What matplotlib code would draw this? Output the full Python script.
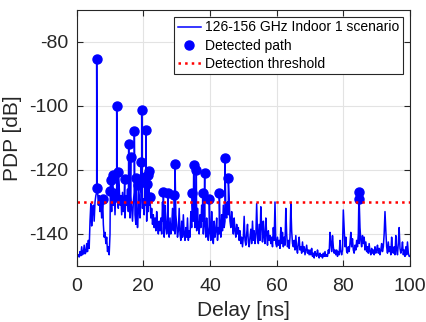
import numpy as np
import matplotlib
matplotlib.use('Agg')
import matplotlib.pyplot as plt

plt.rcParams['font.family'] = ['Liberation Sans', 'DejaVu Sans']
plt.rcParams['axes.unicode_minus'] = False

trace_step = 0.25
trace_pdp = [
    -147.5, -147, -146.5, -147.2, -145.5, -146.8, -144, -146.5, -146, -143.5,
    -146.2, -145.8, -143, -145.5, -142, -144.5, -136, -130.5, -137.5, -133,
    -131, -136, -130, -128, -127, -126, -131, -128, -133, -130,
    -135, -131, -137, -141, -139.5, -143, -141, -145.5, -144, -146.5,
    -140, -128, -133, -124, -131, -127, -134, -126, -130, -128,
    -132, -125, -131, -128, -134, -127, -133, -129, -135, -128,
    -131, -126, -133, -129, -135, -128, -132, -136, -130, -127,
    -134, -137, -131, -138, -133, -128, -135, -130, -127, -132,
    -129, -134, -127, -131, -136, -129, -133, -127, -131, -135,
    -132, -137, -134, -138, -135, -139, -133, -137, -140, -136,
    -139, -135, -140, -130, -136, -141, -131, -138, -140, -133,
    -139, -141, -135, -140, -138, -132, -139, -136, -140, -134,
    -137, -141, -139, -132, -140, -142, -136, -141, -134, -140,
    -142, -138, -141, -135, -142, -139, -141, -133, -138, -131,
    -136, -130, -138, -133, -139, -132, -137, -140, -134, -138,
    -131, -136, -140, -133, -137, -141, -135, -139, -142, -137,
    -139, -142, -133, -140, -143, -136, -141, -139, -135, -142,
    -138, -140, -137, -141, -134, -139, -131, -138, -136, -133,
    -135, -130, -134, -129, -136, -138, -133, -137, -140, -135,
    -139, -141, -137, -140, -138, -142, -139, -143, -141, -144,
    -141, -134.5, -142, -143.5, -140, -137, -142.5, -144, -141, -138.5,
    -143, -136, -142, -139, -143, -141, -130.5, -140, -143, -137,
    -142, -131.5, -138, -142.5, -136, -141, -143, -135, -140, -143.5,
    -139, -142, -140.5, -143, -141, -144, -138, -142, -130, -143,
    -144, -141, -143.5, -142, -144.5, -138, -143, -139.5, -144, -141,
    -143.5, -132, -140, -144, -142, -144.5, -141, -130.5, -139, -143,
    -144, -142, -145, -140.5, -144.5, -146, -143, -141, -145, -144,
    -146, -142.5, -145.5, -144, -146.5, -145, -143.5, -146, -145, -146.5,
    -145, -146.5, -144.5, -147, -146, -147.5, -145.5, -146.5, -147, -145,
    -146.5, -147.5, -146, -147, -146.5, -147.5, -146, -147, -145.5, -147,
    -146.5, -147, -145, -146, -139.5, -143, -145.5, -140.5, -144, -146,
    -145, -146.5, -145, -147, -145.5, -146.5, -142, -145.5, -146.5, -145,
    -132.5, -138, -144, -141, -145.5, -146, -144, -145.5, -143, -139.5,
    -144, -141.5, -145, -146, -143.5, -145, -142, -144, -140, -143,
    -138, -142, -144, -140.5, -143, -141, -145, -142.5, -145.5, -144,
    -146, -143, -145.5, -146.5, -144.5, -146, -145, -146.5, -144, -146,
    -145, -143.5, -146, -144.5, -146.5, -145, -143, -145.5, -144, -140,
    -133, -139, -144, -146, -142.5, -145.5, -144, -146.5, -141, -145,
    -146, -144, -146.5, -140.5, -145, -146.5, -143, -138, -144.5, -146,
    -145, -142.5, -146.5, -145, -147, -144, -146.5, -142.5, -146, -147,
    -147,
]
trace_delay = np.arange(len(trace_pdp)) * trace_step

# detected multipath components
path_delay = [6.0, 6.1, 7.8, 10.1, 10.2, 10.8, 12.0, 12.5, 14.4, 15.6,
              16.2, 17.3, 17.8, 18.5, 19.3, 19.5, 20.5, 20.8, 21.2, 21.5,
              21.7, 22.0, 26.0, 27.4, 29.3, 29.5, 34.7, 35.1, 35.9, 37.8,
              38.4, 39.8, 42.8, 44.5, 45.5, 84.7, 84.75]
path_pdp = [-85.3, -125.7, -129.2, -126.5, -123.2, -121.6, -100.1, -120.6, -122.8, -111.8,
            -115.9, -107.9, -122.4, -124.6, -117.6, -101.4, -122.2, -107.6, -124.4, -121.5,
            -120.2, -128.3, -126.9, -127.3, -127.9, -118.1, -127.2, -118.3, -119.9, -127.1,
            -121.0, -129.1, -127.1, -116.4, -122.5, -126.9, -129.1]

threshold = -130

# merge the paths into the trace so each path shows up as a spike
all_delay = np.concatenate([trace_delay, path_delay])
all_pdp = np.concatenate([trace_pdp, path_pdp])
order = np.argsort(all_delay, kind='stable')

fig = plt.figure(figsize=(4.26, 3.22), dpi=100)
ax = fig.add_axes([0.180, 0.174, 0.9624 - 0.180, 0.969 - 0.174])

ax.plot(all_delay[order], all_pdp[order], color='blue', lw=1.1,
        label='126-156 GHz Indoor 1 scenario')
ax.plot(path_delay, path_pdp, 'o', color='blue', markersize=6.5, lw=0,
        label='Detected path')
ax.axhline(threshold, color='red', ls=':', lw=1.8, label='Detection threshold')

ax.set_xlim(0, 100)
ax.set_ylim(-150, -70)
ax.set_xticks([0, 20, 40, 60, 80, 100])
ax.set_yticks([-140, -120, -100, -80])
ax.grid(True, color='#e3e3e3', lw=0.8)
ax.set_axisbelow(True)
ax.tick_params(direction='in', top=True, right=True, length=4, width=0.8,
               labelsize=14, colors='#262626', pad=6)
ax.tick_params(axis='x', pad=9)
for s in ax.spines.values():
    s.set_color('#262626')
    s.set_linewidth(0.8)

ax.set_xlabel('Delay [ns]', fontsize=15, color='#262626', labelpad=4)
ax.set_ylabel('PDP [dB]', fontsize=15, color='#262626', labelpad=5)

leg = ax.legend(loc='upper right', fontsize=10, fancybox=False, framealpha=1,
                edgecolor='#262626', borderpad=0.25, labelspacing=0.3,
                handlelength=1.7, handletextpad=0.3, borderaxespad=0.5)
leg.get_frame().set_linewidth(0.8)

fig.savefig('out.png', dpi=100)
